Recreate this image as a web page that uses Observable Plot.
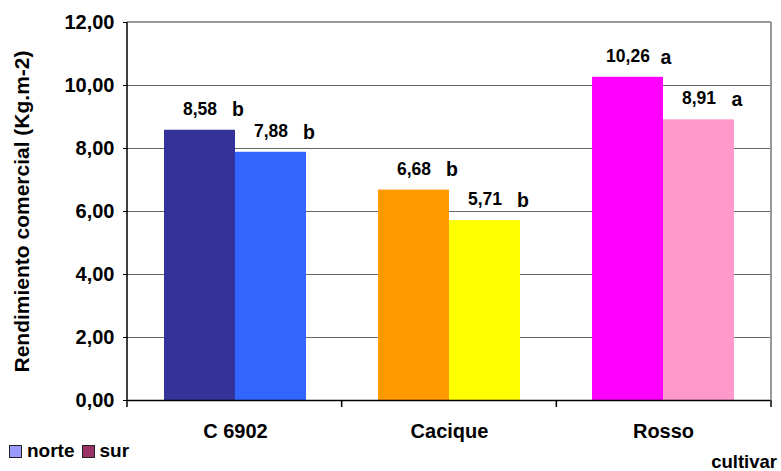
<!DOCTYPE html>
<html><head><meta charset="utf-8">
<script src="https://cdn.jsdelivr.net/npm/d3@7"></script>
<script src="https://cdn.jsdelivr.net/npm/@observablehq/plot@0.6"></script>
<style>
body{margin:0;background:#fff;font-family:"Liberation Sans",Arial,sans-serif;}
#wrap{position:relative;width:781px;height:471px;overflow:hidden;background:#fff;}
#legend{position:absolute;left:9px;top:440px;display:flex;align-items:center;font-size:19px;font-weight:bold;color:#000;}
.sw{display:inline-block;width:11px;height:11px;border:1px solid #222;margin-right:5px;}
.item{display:flex;align-items:center;margin-right:7px;}
#xtitle{position:absolute;right:4px;top:451px;font-size:18.5px;font-weight:bold;color:#000;white-space:nowrap;}
</style></head><body><div id="wrap"></div>
<script>
const cultivars = ["C 6902", "Cacique", "Rosso"];
const sites = ["norte", "sur"];
const norteValues = [8.58, 6.68, 10.26];
const surValues = [7.88, 5.71, 8.91];
const norteLetters = ["b", "b", "a"];
const surLetters = ["b", "b", "a"];
const norteColors = ["#333399", "#FF9900", "#FF00FF"];
const surColors = ["#3366FF", "#FFFF00", "#FF99CC"];
const legendColors = ["#9999FF", "#993366"];
const yTicks = [0, 2, 4, 6, 8, 10, 12];
const yTitle = "Rendimiento comercial (Kg.m-2)";
const xTitle = "cultivar";

const rows = [];
cultivars.forEach((c, i) => {
  rows.push({cultivar: c, site: sites[0], value: norteValues[i], letter: norteLetters[i], color: norteColors[i]});
  rows.push({cultivar: c, site: sites[1], value: surValues[i], letter: surLetters[i], color: surColors[i]});
});
const fmt = v => v.toFixed(2).replace(".", ",");
const font = '"Liberation Sans", Arial, sans-serif';

const plot = Plot.plot({
  width: 781, height: 440,
  marginLeft: 127, marginRight: 10, marginTop: 22, marginBottom: 40,
  style: {fontFamily: font, fontSize: "20px", fontWeight: "bold", color: "#000", background: "#fff", overflow: "visible"},
  fx: {domain: cultivars, padding: 0, label: null},
  x: {domain: sites, paddingInner: 0, paddingOuter: 0.5, axis: null},
  y: {domain: [0, 12]},
  color: {type: "identity"},
  marks: [
    Plot.gridY(yTicks, {stroke: "#666", strokeOpacity: 1, strokeWidth: 1}),
    Plot.barY(rows, {fx: "cultivar", x: "site", y: "value", fill: "color"}),
    Plot.ruleY([0], {stroke: "#000", strokeWidth: 1.5}),
    Plot.text(rows, {fx: "cultivar", x: "site", y: "value", text: d => fmt(d.value), dy: -21, fontSize: 17.5, fontWeight: "bold", fill: "#000"}),
    Plot.text(rows, {fx: "cultivar", x: "site", y: "value", text: "letter", dx: 38, dy: -20, fontSize: 19.5, fontWeight: "bold", fill: "#000"}),
    Plot.axisY({ticks: yTicks, tickFormat: fmt, tickSize: 5, tickPadding: 9, fontSize: 20, fontWeight: "bold",
      label: yTitle, labelAnchor: "center", labelArrow: "none", labelOffset: 114}),
    Plot.axisFx({anchor: "bottom", tickSize: 0, tickPadding: 23, label: null, fontSize: 20, fontWeight: "bold"})
  ]
});

// decorations: axis line, plot border, category boundary ticks
const fxs = plot.scale("fx");
const ys = plot.scale("y");
const yScale = d3.scaleLinear(ys.domain, ys.range);
const [x0, x1] = fxs.range;
const yTop = yScale(d3.max(yTicks)), yBot = yScale(0);
const svg = d3.select(plot);
const g = svg.append("g");
g.append("line").attr("x1", x0).attr("x2", x1).attr("y1", yTop).attr("y2", yTop).attr("stroke", "#999").attr("stroke-width", 2);
g.append("line").attr("x1", x1).attr("x2", x1).attr("y1", yTop).attr("y2", yBot).attr("stroke", "#999").attr("stroke-width", 2);
g.append("line").attr("x1", x0).attr("x2", x0).attr("y1", yTop).attr("y2", yBot).attr("stroke", "#000").attr("stroke-width", 1.5);
const n = fxs.domain.length;
for (let i = 0; i <= n; i++) {
  const xx = x0 + i * (x1 - x0) / n;
  g.append("line").attr("x1", xx).attr("x2", xx).attr("y1", yBot).attr("y2", yBot + 7).attr("stroke", "#000").attr("stroke-width", 1.5);
}
// y-title font size
svg.selectAll("text").filter(function () { return this.textContent === yTitle; }).attr("font-size", 21);

const wrap = document.getElementById("wrap");
wrap.appendChild(plot);
const legend = document.createElement("div");
legend.id = "legend";
sites.forEach((s, i) => {
  const it = document.createElement("div");
  it.className = "item";
  const sw = document.createElement("span");
  sw.className = "sw";
  sw.style.background = legendColors[i];
  const t = document.createElement("span");
  t.textContent = s;
  it.appendChild(sw); it.appendChild(t);
  legend.appendChild(it);
});
wrap.appendChild(legend);
const xt = document.createElement("div");
xt.id = "xtitle";
xt.textContent = xTitle;
wrap.appendChild(xt);
</script></body></html>
